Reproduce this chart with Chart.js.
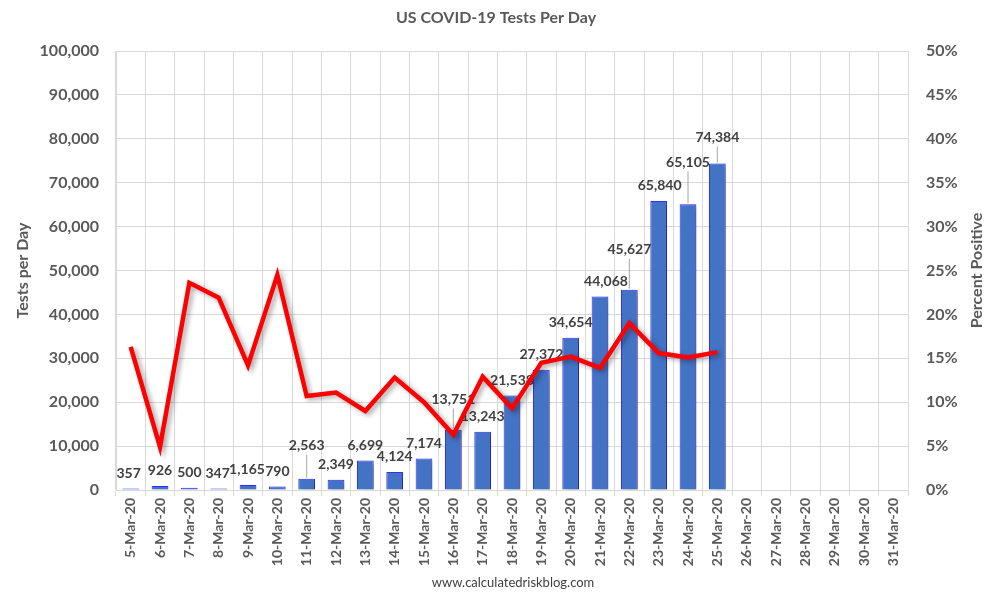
<!DOCTYPE html>
<html>
<head>
<meta charset="utf-8">
<script src="https://cdn.jsdelivr.net/npm/chart.js@4/dist/chart.umd.min.js"></script>
<style>
  html, body { margin: 0; padding: 0; background: #fff; }
  #wrap { width: 991px; height: 604px; }
</style>
</head>
<body>
<div id="wrap"><canvas id="tests"></canvas></div>
<script>
var days = ['5-Mar-20', '6-Mar-20', '7-Mar-20', '8-Mar-20', '9-Mar-20', '10-Mar-20', '11-Mar-20',
    '12-Mar-20', '13-Mar-20', '14-Mar-20', '15-Mar-20', '16-Mar-20', '17-Mar-20', '18-Mar-20',
    '19-Mar-20', '20-Mar-20', '21-Mar-20', '22-Mar-20', '23-Mar-20', '24-Mar-20', '25-Mar-20',
    '26-Mar-20', '27-Mar-20', '28-Mar-20', '29-Mar-20', '30-Mar-20', '31-Mar-20'];
var testsPerDay = [357, 926, 500, 347, 1165, 790, 2563, 2349, 6699, 4124, 7174, 13751, 13243, 21538,
    27372, 34654, 44068, 45627, 65840, 65105, 74384, null, null, null, null, null, null];
var percentPositive = [16.3, 4.9, 23.6, 21.9, 14.2, 24.5, 10.7, 11.1, 9.0, 12.8, 10.0, 6.3, 12.9, 9.3,
    14.5, 15.2, 13.9, 19.0, 15.6, 15.1, 15.7, null, null, null, null, null, null];
var leftTicks = [0, 10000, 20000, 30000, 40000, 50000, 60000, 70000, 80000, 90000, 100000];
var rightTicks = [0, 5, 10, 15, 20, 25, 30, 35, 40, 45, 50];

// label nudges (pixels) so labels sit like the original
var labelLift = [0, 0, 0, 0, 0, 0, 18, 0, 0, 0, 0, 15, 0, 0, 0, 0, 0, 25, 0, 27, 11];
var labelShift = [-2, 0, 0, -1, -1, 0, 0, 0, 0, 0, 0, 0, 0, 0, 0, 0, 6, 0, 1, 0, 0];

var FONT = 'Lato, "Open Sans", sans-serif';
var GREY = '#595959';
var GRID = '#d9d9d9';

var extras = {
    id: 'extras',
    beforeDatasetDraw: function (chart, args) {
        var ctx = chart.ctx;
        ctx.save();
        ctx.shadowColor = 'rgba(0,0,0,0.35)';
        ctx.shadowBlur = 5;
        ctx.shadowOffsetX = 3;
        ctx.shadowOffsetY = 2;
    },
    afterDatasetDraw: function (chart, args) {
        var ctx = chart.ctx;
        ctx.restore();
        if (args.index !== 0) return;
        var meta = chart.getDatasetMeta(0);
        ctx.save();
        ctx.font = 'bold 14px ' + FONT;
        ctx.fillStyle = '#404040';
        ctx.textAlign = 'center';
        ctx.textBaseline = 'middle';
        meta.data.forEach(function (bar, i) {
            var v = testsPerDay[i];
            if (v == null) return;
            var lift = labelLift[i] || 0;
            var x = bar.x + (labelShift[i] || 0);
            var y = bar.y - 15 - lift;
            if (lift > 8) {
                ctx.strokeStyle = '#a6a6a6';
                ctx.lineWidth = 1;
                ctx.beginPath();
                ctx.moveTo(x, y + 9);
                ctx.lineTo(bar.x, bar.y - 1);
                ctx.stroke();
            }
            ctx.fillText(v.toLocaleString('en-US'), x, y);
        });
        ctx.restore();
    },
    afterDraw: function (chart) {
        var ctx = chart.ctx;
        var area = chart.chartArea;
        ctx.save();
        ctx.fillStyle = GREY;
        ctx.textAlign = 'center';
        ctx.textBaseline = 'middle';
        ctx.font = 'bold 16px ' + FONT;
        ctx.fillText('US COVID-19 Tests Per Day', 496, 18);

        ctx.save();
        ctx.translate(23, (area.top + area.bottom) / 2);
        ctx.rotate(-Math.PI / 2);
        ctx.fillText('Tests per Day', 0, 0);
        ctx.restore();

        ctx.save();
        ctx.translate(977, (area.top + area.bottom) / 2);
        ctx.rotate(-Math.PI / 2);
        ctx.fillText('Percent Positive', 0, 0);
        ctx.restore();

        ctx.fillStyle = '#404040';
        ctx.font = '13px ' + FONT;
        ctx.fillText('www.calculatedriskblog.com', 513, 583);
        ctx.restore();
    }
};

new Chart('tests', {
    type: 'bar',
    data: {
        labels: days,
        datasets: [{
            type: 'bar',
            data: testsPerDay,
            yAxisID: 'y',
            backgroundColor: '#4472C4',
            borderColor: '#3232ff',
            borderWidth: 1,
            barPercentage: 0.57,
            categoryPercentage: 1,
            order: 2
        }, {
            type: 'line',
            data: percentPositive,
            yAxisID: 'y1',
            borderColor: '#ff0000',
            borderWidth: 4.5,
            borderJoinStyle: 'miter',
            pointRadius: 0,
            tension: 0,
            fill: false,
            order: 1
        }]
    },
    options: {
        responsive: true,
        maintainAspectRatio: false,
        animation: false,
        layout: { padding: { top: 51, left: 0, right: 0, bottom: 0 } },
        plugins: {
            legend: { display: false },
            title: { display: false },
            tooltip: { enabled: false }
        },
        scales: {
            x: {
                grid: { color: GRID, offset: true, tickLength: 6 },
                border: { color: GRID },
                ticks: {
                    color: GREY,
                    font: { family: FONT, size: 14, weight: 'bold' },
                    minRotation: 90,
                    maxRotation: 90,
                    autoSkip: false,
                    padding: 2
                },
                afterFit: function (scale) { scale.height = 114; }
            },
            y: {
                position: 'left',
                min: leftTicks[0],
                max: leftTicks[leftTicks.length - 1],
                afterBuildTicks: function (scale) {
                    scale.ticks = leftTicks.map(function (v) { return { value: v }; });
                },
                grid: { color: GRID, drawTicks: false },
                border: { color: GRID },
                ticks: {
                    color: GREY,
                    padding: 17,
                    font: { family: FONT, size: 16, weight: 'bold' },
                    callback: function (v) { return v.toLocaleString('en-US'); }
                },
                afterFit: function (scale) { scale.width = 116; }
            },
            y1: {
                position: 'right',
                min: rightTicks[0],
                max: rightTicks[rightTicks.length - 1],
                afterBuildTicks: function (scale) {
                    scale.ticks = rightTicks.map(function (v) { return { value: v }; });
                },
                grid: { drawOnChartArea: false, drawTicks: false },
                border: { color: GRID },
                ticks: {
                    color: GREY,
                    padding: 18,
                    font: { family: FONT, size: 16, weight: 'bold' },
                    callback: function (v) { return v + '%'; }
                },
                afterFit: function (scale) { scale.width = 83; }
            }
        }
    },
    plugins: [extras]
});
</script>
</body>
</html>
